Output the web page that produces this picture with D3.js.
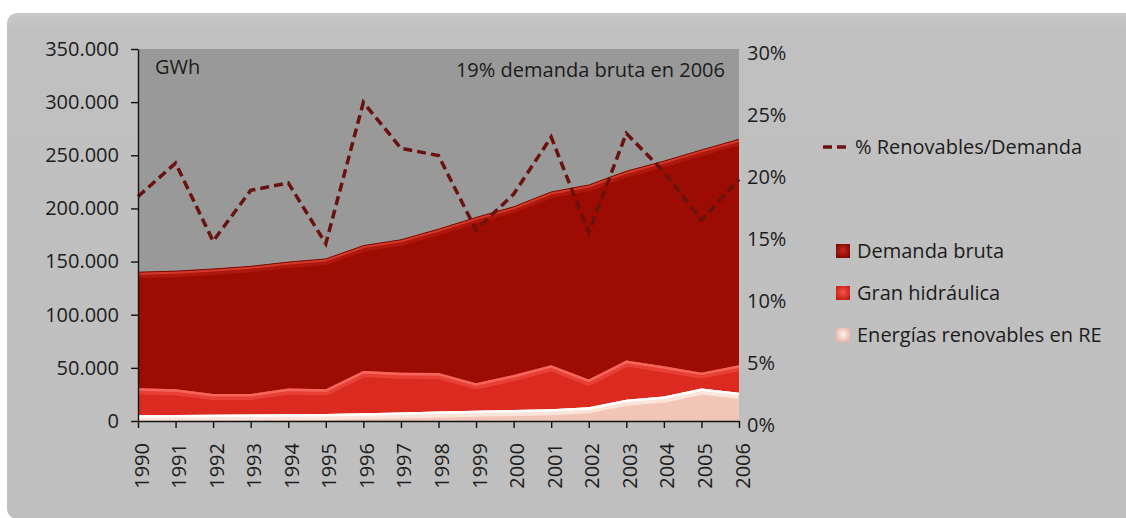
<!DOCTYPE html>
<html lang="es">
<head>
<meta charset="utf-8">
<title>Energías renovables y demanda bruta 1990-2006</title>
<script src="https://cdn.jsdelivr.net/npm/d3@7"></script>
<style>
  html, body { margin: 0; padding: 0; background: #ffffff; }
  svg { display: block; font-family: "Open Sans", "Noto Sans", sans-serif; }
  .axis text { font-family: "Open Sans", "Noto Sans", sans-serif; font-size: 20px; fill: #1c1c1c; }
  .axis path, .axis line { stroke: #111; stroke-width: 1.4; }
</style>
</head>
<body>
<script>
// Years on the horizontal axis
const years = [1990, 1991, 1992, 1993, 1994, 1995, 1996, 1997, 1998,
               1999, 2000, 2001, 2002, 2003, 2004, 2005, 2006];

// Gross demand (GWh)
const demandaBruta = [140000, 141000, 143000, 145500, 149500, 152500, 165000, 170500, 180500,
                      191500, 201500, 215500, 222000, 235000, 244500, 255000, 265000];

// Large hydro (GWh), stacked on top of special-regime renewables
const granHidraulica = [25300, 24200, 19600, 19400, 24200, 23200, 39700, 37500, 36200,
                        25800, 33000, 41500, 26000, 37000, 28500, 15000, 26000];

// Renewables in special regime (GWh)
const renovablesRE = [5500, 5600, 5800, 6000, 6300, 6600, 7300, 8000, 9000,
                      9700, 10300, 11000, 13000, 20000, 23000, 30500, 26500];

// Share of renewables over gross demand (%)
const pctRenovables = [18.1, 20.8, 14.5, 18.6, 19.2, 14.3, 25.7, 22.0, 21.4,
                       15.4, 18.3, 22.9, 15.2, 23.2, 20.1, 16.2, 19.5];

// Axis ticks
const gwhTicks = [0, 50000, 100000, 150000, 200000, 250000, 300000, 350000];
const pctTicks = [0, 5, 10, 15, 20, 25, 30];

const legendItems = ["Demanda bruta", "Gran hidráulica", "Energías renovables en RE"];
const lineLegend = "% Renovables/Demanda";
const unitLabel = "GWh";
const note = "19% demanda bruta en 2006";

// ---- layout
const W = 1126, H = 518;
const plot = { left: 138, top: 49, right: 739, bottom: 421 };

const rows = years.map((yr, i) => ({
  year: yr,
  demanda: demandaBruta[i],
  re: renovablesRE[i],
  hid: granHidraulica[i],
  pct: pctRenovables[i]
}));

const x = d3.scaleLinear().domain([1990, 2006]).range([plot.left, plot.right]);
const y = d3.scaleLinear().domain([0, 350000]).range([plot.bottom, plot.top]);
const yPct = d3.scaleLinear().domain([0, 30]).range([plot.bottom, plot.top]);

const es = d3.formatLocale({ decimal: ",", thousands: ".", grouping: [3], currency: ["", " €"] });
const fmtGwh = es.format(",.0f");

const svg = d3.select("body").append("svg").attr("width", W).attr("height", H);
const defs = svg.append("defs");

// chart frame
const frameGrad = defs.append("linearGradient").attr("id", "frameGrad")
  .attr("x1", 0).attr("y1", 0).attr("x2", 0).attr("y2", 1);
frameGrad.append("stop").attr("offset", "0%").attr("stop-color", "#c9c9c9");
frameGrad.append("stop").attr("offset", "3%").attr("stop-color", "#c0c0c0");
frameGrad.append("stop").attr("offset", "100%").attr("stop-color", "#bfbfbf");
svg.append("rect").attr("x", 7).attr("y", 13).attr("width", 1140).attr("height", 506)
  .attr("rx", 10).attr("fill", "url(#frameGrad)");

// plot background
svg.append("rect").attr("x", plot.left).attr("y", plot.top)
  .attr("width", plot.right - plot.left).attr("height", plot.bottom - plot.top)
  .attr("fill", "#999999");

const g = svg.append("g");

// draw an area with a lighter bevel along its upper edge
function bevelArea(id, area, edge, fill, bands) {
  defs.append("clipPath").attr("id", id).append("path").attr("d", area(rows));
  g.append("path").attr("d", area(rows)).attr("fill", fill);
  bands.forEach(b => {
    g.append("path").attr("d", edge(rows)).attr("fill", "none")
      .attr("stroke", b.color).attr("stroke-width", b.width)
      .attr("stroke-opacity", b.opacity == null ? 1 : b.opacity)
      .attr("stroke-linejoin", "round")
      .attr("clip-path", `url(#${id})`);
  });
}

// Demanda bruta
bevelArea("clipDemanda",
  d3.area().x(d => x(d.year)).y0(y(0)).y1(d => y(d.demanda)),
  d3.line().x(d => x(d.year)).y(d => y(d.demanda)),
  "#9c0c02",
  [{ color: "#bd2216", width: 12, opacity: 0.55 }, { color: "#d3392b", width: 5 }]);
g.append("path")
  .attr("d", d3.line().x(d => x(d.year)).y(d => y(d.demanda))(rows))
  .attr("fill", "none").attr("stroke", "#7c0a02").attr("stroke-width", 1);

// Gran hidráulica (stacked above renewables RE)
bevelArea("clipHid",
  d3.area().x(d => x(d.year)).y0(d => y(d.re)).y1(d => y(d.re + d.hid)),
  d3.line().x(d => x(d.year)).y(d => y(d.re + d.hid)),
  "#dc2a20",
  [{ color: "#ee4a40", width: 12, opacity: 0.7 }, { color: "#f4655c", width: 5 }]);

// Energías renovables en RE
bevelArea("clipRE",
  d3.area().x(d => x(d.year)).y0(y(0)).y1(d => y(d.re)),
  d3.line().x(d => x(d.year)).y(d => y(d.re)),
  "#f2c6b6",
  [{ color: "#fbe4da", width: 12 }, { color: "#ffffff", width: 5 }]);

// % renewables over demand, dashed line on the right axis
g.append("path")
  .attr("d", d3.line().x(d => x(d.year)).y(d => yPct(d.pct))(rows))
  .attr("fill", "none").attr("stroke", "#6a120e").attr("stroke-width", 3.5)
  .attr("stroke-dasharray", "9,5").attr("stroke-linejoin", "miter");

// ---- axes
const axL = svg.append("g").attr("class", "axis")
  .attr("transform", `translate(${plot.left},0)`)
  .call(d3.axisLeft(y).tickValues(gwhTicks).tickFormat(fmtGwh).tickSizeInner(7).tickSizeOuter(0).tickPadding(12));

const axR = svg.append("g").attr("class", "axis")
  .attr("transform", `translate(${plot.right},0)`)
  .call(d3.axisRight(yPct).tickValues(pctTicks).tickFormat(d => d + "%").tickSize(0).tickPadding(8));
axR.select(".domain").remove();
axR.selectAll("text").attr("dy", "0.5em");

const axB = svg.append("g").attr("class", "axis")
  .attr("transform", `translate(0,${plot.bottom})`)
  .call(d3.axisBottom(x).tickValues(years).tickFormat(d3.format("d")).tickSizeInner(7).tickSizeOuter(0));
axB.selectAll("text")
  .attr("transform", "rotate(-90)")
  .attr("text-anchor", "end")
  .attr("x", -22).attr("y", 0).attr("dy", "0.5em");

// ---- texts inside the plot
svg.append("text").attr("x", 155).attr("y", 74).attr("font-size", 20).attr("fill", "#1c1c1c")
  .text(unitLabel);
svg.append("text").attr("x", 725).attr("y", 77).attr("font-size", 20).attr("fill", "#1c1c1c")
  .attr("text-anchor", "end").text(note);

// ---- legends
const lg = svg.append("g");
lg.append("line").attr("x1", 823).attr("x2", 848).attr("y1", 147).attr("y2", 147)
  .attr("stroke", "#6a120e").attr("stroke-width", 3.5).attr("stroke-dasharray", "9,5");
lg.append("text").attr("x", 855).attr("y", 147).attr("dy", "0.36em")
  .attr("font-size", 20).attr("fill", "#1c1c1c").text(lineLegend);

const swatch = [
  { inner: "#c8281c", outer: "#7c0a02" },
  { inner: "#f0564c", outer: "#c81e14" },
  { inner: "#fff4ee", outer: "#e8b4a4" }
];
swatch.forEach((s, i) => {
  const gr = defs.append("radialGradient").attr("id", "sw" + i)
    .attr("cx", "50%").attr("cy", "45%").attr("r", "60%");
  gr.append("stop").attr("offset", "0%").attr("stop-color", s.inner);
  gr.append("stop").attr("offset", "100%").attr("stop-color", s.outer);
});

const legendY = d3.scalePoint().domain(legendItems).range([251, 335]);
legendItems.forEach((name, i) => {
  const cy = legendY(name);
  lg.append("rect").attr("x", 836).attr("y", cy - 7).attr("width", 14).attr("height", 14)
    .attr("fill", `url(#sw${i})`);
  lg.append("text").attr("x", 857).attr("y", cy).attr("dy", "0.36em")
    .attr("font-size", 20).attr("fill", "#1c1c1c").text(name);
});
</script>
</body>
</html>
